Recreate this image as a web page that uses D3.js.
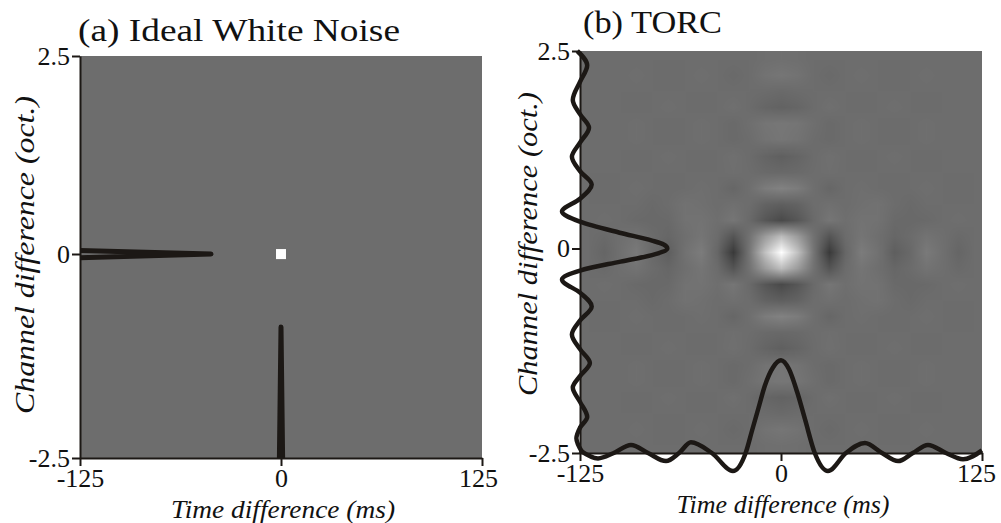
<!DOCTYPE html>
<html>
<head>
<meta charset="utf-8">
<script src="https://cdn.jsdelivr.net/npm/d3@7"></script>
<style>
  body { margin: 0; background: #fff; }
  svg text { font-family: "Liberation Serif", "Times New Roman", serif; fill: #111; }
</style>
</head>
<body>
<div id="chart"></div>
<script>
// ---- data ----
const panelTitles = ["(a) Ideal White Noise", "(b) TORC"];
const timeTicks = [-125, 0, 125];
const chanTicks = [-2.5, 0, 2.5];
const xTitle = "Time difference (ms)";
const yTitle = "Channel difference (oct.)";

// (a) white noise: a single delta at the origin
const wnCellT = [0];
const wnCellC = [0];
const wnCellV = [100];
const wnChanC = [-0.045, 0, 0.045];
const wnChanV = [0, 1, 0];
const wnTimeT = [-1, 0, 1];
const wnTimeV = [0, 1, 0];

// (b) TORC: profile along channel (at t = 0)
const torcChanC = [2.5, 2.32, 2.11, 1.88, 1.70, 1.53, 1.34, 1.16, 0.98, 0.81, 0.63, 0.467, 0.34, 0.20, 0.10, 0.05, 0,
  -0.08, -0.16, -0.27, -0.38, -0.54, -0.71, -0.88, -1.05, -1.23, -1.40, -1.56, -1.70, -1.875, -2.06, -2.19, -2.32, -2.5];
const torcChanV = [-0.03, 0.08, 0, -0.08, 0, 0.10, 0, -0.09, 0, 0.13, 0, -0.20, 0, 0.44, 0.80, 0.93, 0.97,
  0.80, 0.45, 0, -0.20, 0, 0.13, 0, -0.09, 0, 0.11, 0, -0.08, 0, 0.08, 0, -0.04, 0.03];

// (b) TORC: profile along time (at channel 0)
const torcTimeT = [-125, -113.8, -104, -93.3, -82.7, -71.5, -63.4, -56, -43, -29.9, -22, -18, -14, -10, -5, 0,
  5, 10, 15, 21, 29.2, 40.4, 52.2, 62.8, 72.8, 82, 91.4, 102.6, 113.2, 125];
const torcTimeV = [0.03, -0.06, 0, 0.09, 0, -0.09, 0, 0.12, 0, -0.20, 0, 0.25, 0.5, 0.75, 0.95, 1.03,
  0.93, 0.68, 0.37, 0, -0.20, 0, 0.11, 0, -0.09, 0, 0.09, 0, -0.07, 0.03];

// (b) TORC 2-D map, cell centres (percent of peak)
const gridT = [-120, -110, -100, -90, -80, -70, -60, -50, -40, -30, -20, -10, 0, 10, 20, 30, 40, 50, 60, 70, 80, 90, 100, 110, 120];
const gridC = [2.4, 2.2, 2.0, 1.8, 1.6, 1.4, 1.2, 1.0, 0.8, 0.6, 0.4, 0.2, 0, -0.2, -0.4, -0.6, -0.8, -1.0, -1.2, -1.4, -1.6, -1.8, -2.0, -2.2, -2.4];
const gridV = [
  [0, 0, 0, 0, 0, 0, 0, 0, 0, 0, 0, 1, 2, 1, 0, 0, 0, 0, 0, 0, 0, 0, 0, 0, 0],
  [0, 0, 0, 1, 0, -1, 0, 1, 0, -2, 0, 4, 6, 4, 0, -2, 0, 1, 0, -1, 0, 1, 0, 0, 0],
  [0, 0, 0, 0, 0, 0, 0, 0, 0, 0, 0, -1, -2, -1, 0, 0, 0, 0, 0, 0, 0, 0, 0, 0, 0],
  [0, 0, 0, -1, 0, 1, 0, -1, 0, 2, -1, -5, -7, -5, -1, 2, 0, -1, 0, 1, 0, -1, 0, 0, 0],
  [0, 0, 0, 1, 0, -1, 0, 1, 0, -2, 1, 5, 7, 5, 1, -2, 0, 1, 0, -1, 0, 1, 0, 0, 0],
  [0, 0, 0, 1, 0, -1, 0, 1, 0, -2, 0, 4, 6, 4, 0, -2, 0, 1, 0, -1, 0, 1, 0, 0, 0],
  [0, 0, 0, -1, 0, 1, 0, -1, 0, 2, -1, -6, -9, -6, -1, 2, 0, -1, 0, 1, 0, -1, 0, 0, 0],
  [0, 0, 0, 0, 0, 0, 0, 0, 0, 1, 0, -2, -3, -2, 0, 1, 0, 0, 0, 0, 0, 0, 0, 0, 0],
  [0, -1, 0, 1, 0, -1, 0, 1, 0, -4, 1, 10, 14, 10, 1, -4, 0, 1, 0, -1, 0, 1, 0, -1, 0],
  [0, 0, 0, 0, -2, 0, 3, 2, 0, 2, 0, -7, -10, -7, 0, 2, 0, 2, 3, 0, -2, 0, 0, 0, 0],
  [0, 1, 0, -2, -3, -2, 3, 4, 1, 6, -2, -15, -24, -15, -2, 6, 1, 4, 3, -2, -3, -2, 0, 1, 0],
  [0, -2, 1, 4, -1, -4, 1, 5, -1, -17, 3, 32, 55, 32, 3, -17, -1, 5, 1, -4, -1, 4, 1, -2, 0],
  [0, -5, 2, 9, -3, -10, 3, 10, -4, -35, 6, 58, 100, 58, 6, -35, -4, 10, 3, -10, -3, 9, 2, -5, 0],
  [0, -2, 1, 4, -1, -4, 1, 5, -1, -17, 3, 32, 55, 32, 3, -17, -1, 5, 1, -4, -1, 4, 1, -2, 0],
  [0, 1, 0, -2, -3, -2, 3, 4, 1, 6, -2, -15, -24, -15, -2, 6, 1, 4, 3, -2, -3, -2, 0, 1, 0],
  [0, 0, 0, 0, -2, 0, 3, 2, 0, 2, 0, -7, -10, -7, 0, 2, 0, 2, 3, 0, -2, 0, 0, 0, 0],
  [0, -1, 0, 1, 0, -1, 0, 1, 0, -4, 1, 10, 14, 10, 1, -4, 0, 1, 0, -1, 0, 1, 0, -1, 0],
  [0, 0, 0, 0, 0, 0, 0, 0, 0, 1, 0, -2, -3, -2, 0, 1, 0, 0, 0, 0, 0, 0, 0, 0, 0],
  [0, 0, 0, -1, 0, 1, 0, -1, 0, 2, -1, -6, -9, -6, -1, 2, 0, -1, 0, 1, 0, -1, 0, 0, 0],
  [0, 0, 0, 1, 0, -1, 0, 1, 0, -2, 0, 4, 6, 4, 0, -2, 0, 1, 0, -1, 0, 1, 0, 0, 0],
  [0, 0, 0, 1, 0, -1, 0, 1, 0, -2, 1, 5, 7, 5, 1, -2, 0, 1, 0, -1, 0, 1, 0, 0, 0],
  [0, 0, 0, -1, 0, 1, 0, -1, 0, 2, -1, -5, -7, -5, -1, 2, 0, -1, 0, 1, 0, -1, 0, 0, 0],
  [0, 0, 0, 0, 0, 0, 0, 0, 0, 0, 0, -1, -2, -1, 0, 0, 0, 0, 0, 0, 0, 0, 0, 0, 0],
  [0, 0, 0, 1, 0, -1, 0, 1, 0, -2, 0, 4, 6, 4, 0, -2, 0, 1, 0, -1, 0, 1, 0, 0, 0],
  [0, 0, 0, 0, 0, 0, 0, 0, 0, 0, 0, 1, 2, 1, 0, 0, 0, 0, 0, 0, 0, 0, 0, 0, 0]
];

// ---- layout ----
const W = 1001, H = 523;
const ink = "#1c1815";
const serif = '"Liberation Serif", "Times New Roman", serif';
const gray = d3.scaleLinear().domain([-75, 100]).range(["#000000", "#ffffff"]).clamp(true);

const svg = d3.select("#chart").append("svg")
  .attr("width", W)
  .attr("height", H);

class Panel {
  constructor(box) {
    this.box = box;
    this.x = d3.scaleLinear().domain([-125, 125]).range([box.left, box.right]);
    this.y = d3.scaleLinear().domain([-2.5, 0, 2.5]).range([box.bottom, box.zero, box.top]);
    this.amp = d3.scaleLinear().domain([0, 1]).range([0, box.amp]);
    this.g = svg.append("g");
  }

  drawBackground() {
    let vis = this;
    vis.g.append("rect")
      .attr("x", vis.box.left)
      .attr("y", vis.box.top)
      .attr("width", vis.box.right - vis.box.left)
      .attr("height", vis.box.bottom - vis.box.top)
      .attr("fill", gray(0));
  }

  drawAxes(title, lab) {
    let vis = this;
    const fmt = d => String(d);

    const ya = vis.g.append("g")
      .attr("transform", "translate(" + vis.box.left + ",0)")
      .call(d3.axisLeft(vis.y).tickValues(chanTicks).tickSize(8).tickSizeOuter(0).tickPadding(2).tickFormat(fmt));
    const xa = vis.g.append("g")
      .attr("transform", "translate(0," + vis.box.bottom + ")")
      .call(d3.axisBottom(vis.x).tickValues(timeTicks).tickSize(8).tickSizeOuter(0).tickPadding(lab.pad).tickFormat(fmt));

    [ya, xa].forEach(a => {
      a.attr("font-family", serif).attr("font-size", null);
      a.selectAll("path.domain").attr("stroke", ink).attr("stroke-width", 2);
      a.selectAll(".tick line").attr("stroke", ink).attr("stroke-width", 2);
      a.selectAll(".tick text")
        .attr("fill", "#111")
        .style("font-family", serif)
        .style("font-size", "26px");
    });
    // keep the last time label inside the page
    xa.selectAll(".tick text").attr("dx", d => d === 125 ? lab.lastDx : 0);

    vis.g.append("text")
      .attr("x", lab.title[0])
      .attr("y", lab.title[1])
      .attr("textLength", lab.title[2])
      .attr("lengthAdjust", "spacingAndGlyphs")
      .style("font-family", serif)
      .style("font-size", "31px")
      .text(title);

    vis.g.append("text")
      .attr("x", lab.x[0])
      .attr("y", lab.x[1])
      .attr("textLength", lab.x[2])
      .attr("lengthAdjust", "spacingAndGlyphs")
      .attr("text-anchor", "middle")
      .style("font-family", serif)
      .style("font-size", "25px")
      .style("font-style", "italic")
      .text(xTitle);

    vis.g.append("text")
      .attr("transform", "translate(" + lab.y[0] + "," + lab.y[1] + ") rotate(-90)")
      .attr("textLength", lab.y[2])
      .attr("lengthAdjust", "spacingAndGlyphs")
      .attr("text-anchor", "middle")
      .style("font-family", serif)
      .style("font-size", "27px")
      .style("font-style", "italic")
      .text(yTitle);
  }

  // profile along channel, drawn out from the left axis
  drawChanProfile(cs, vs, width, curve) {
    let vis = this;
    const line = d3.line()
      .x(i => vis.box.left + vis.amp(vs[i]))
      .y(i => vis.y(cs[i]))
      .curve(curve);
    vis.g.append("path")
      .attr("d", line(d3.range(cs.length)))
      .attr("fill", "none")
      .attr("stroke", ink)
      .attr("stroke-width", width)
      .attr("stroke-linejoin", "round");
  }

  // profile along time, drawn up from the bottom axis
  drawTimeProfile(ts, vs, width, curve) {
    let vis = this;
    const line = d3.line()
      .x(i => vis.x(ts[i]))
      .y(i => vis.box.bottom - vis.amp(vs[i]))
      .curve(curve);
    vis.g.append("path")
      .attr("d", line(d3.range(ts.length)))
      .attr("fill", "none")
      .attr("stroke", ink)
      .attr("stroke-width", width)
      .attr("stroke-linejoin", "round");
  }
}

// ---- (a) ----
const pa = new Panel({ left: 80, right: 482, top: 56, zero: 254, bottom: 458, amp: 131 });
pa.drawBackground();
const cellT = 6.2, cellC = 0.125;
pa.g.selectAll("rect.cell")
  .data(d3.range(wnCellT.length))
  .join("rect")
  .attr("class", "cell")
  .attr("x", i => pa.x(wnCellT[i] - cellT / 2))
  .attr("y", i => pa.y(wnCellC[i] + cellC / 2))
  .attr("width", i => pa.x(wnCellT[i] + cellT / 2) - pa.x(wnCellT[i] - cellT / 2))
  .attr("height", i => pa.y(wnCellC[i] - cellC / 2) - pa.y(wnCellC[i] + cellC / 2))
  .attr("fill", i => gray(wnCellV[i]));
pa.drawAxes(panelTitles[0], { title: [78, 41, 322], x: [283, 518, 224], y: [34, 255, 318], pad: 2.5, lastDx: -4 });
pa.drawChanProfile(wnChanC, wnChanV, 5, d3.curveLinear);
pa.drawTimeProfile(wnTimeT, wnTimeV, 5, d3.curveLinear);

// ---- (b) ----
const pb = new Panel({ left: 580, right: 982, top: 51, zero: 248.5, bottom: 453, amp: 90 });

// heat map: one canvas pixel per grid cell, smoothed when scaled up
const cv = document.createElement("canvas");
cv.width = gridT.length;
cv.height = gridC.length;
const ctx = cv.getContext("2d");
const img = ctx.createImageData(cv.width, cv.height);
gridV.forEach((row, r) => {
  row.forEach((v, c) => {
    const col = d3.rgb(gray(v));
    const k = (r * cv.width + c) * 4;
    img.data[k] = col.r;
    img.data[k + 1] = col.g;
    img.data[k + 2] = col.b;
    img.data[k + 3] = 255;
  });
});
ctx.putImageData(img, 0, 0);

const dT = gridT[1] - gridT[0];
const dC = gridC[0] - gridC[1];
pb.g.append("image")
  .attr("href", cv.toDataURL())
  .attr("x", pb.x(gridT[0] - dT / 2))
  .attr("y", pb.y(gridC[0] + dC / 2))
  .attr("width", pb.x(gridT[gridT.length - 1] + dT / 2) - pb.x(gridT[0] - dT / 2))
  .attr("height", pb.box.bottom - pb.box.top)
  .attr("preserveAspectRatio", "none")
  .style("image-rendering", "auto");

pb.drawAxes(panelTitles[1], { title: [583, 33, 139], x: [783, 513, 213], y: [537, 244, 304], pad: 2.5, lastDx: -6 });
pb.drawChanProfile(torcChanC, torcChanV, 4.5, d3.curveMonotoneY);
pb.drawTimeProfile(torcTimeT, torcTimeV, 4.5, d3.curveMonotoneX);
</script>
</body>
</html>
